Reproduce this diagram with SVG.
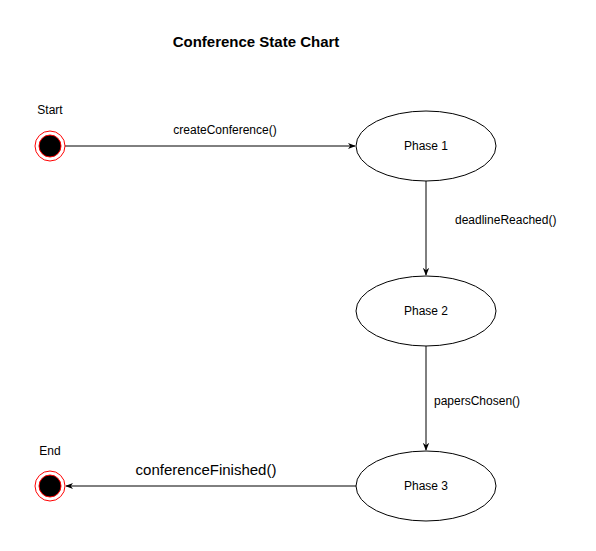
<svg xmlns="http://www.w3.org/2000/svg" width="596" height="551" viewBox="0 0 596 551">
<style>
text{font-family:"Liberation Sans",Arial,sans-serif;fill:#000}
.lbl{font-size:12px}
.st{fill:#fff;stroke:#000;stroke-width:1}
.ring{fill:none;stroke:#ff0000;stroke-width:1}
.dot{fill:#000;stroke:#ff0000;stroke-width:1}
.e{fill:none;stroke:#000;stroke-width:1}
</style>
<defs>
<marker id="ah" viewBox="0 0 10 10" refX="9" refY="5" markerWidth="8" markerHeight="8" markerUnits="userSpaceOnUse" orient="auto">
<path d="M0,1 L10,5 L0,9 L3,5 Z" fill="#000"/>
</marker>
</defs>
<rect width="596" height="551" fill="#fff"/>
<text x="256" y="47" text-anchor="middle" font-size="15" font-weight="bold">Conference State Chart</text>
<g id="connectors">
<line class="e" x1="65" y1="146" x2="355" y2="146" marker-end="url(#ah)"/>
<line class="e" x1="426" y1="181" x2="426" y2="275" marker-end="url(#ah)"/>
<line class="e" x1="426" y1="346" x2="426" y2="450" marker-end="url(#ah)"/>
<line class="e" x1="356" y1="486" x2="66" y2="486" marker-end="url(#ah)"/>
<text class="lbl" x="225" y="134" text-anchor="middle">createConference()</text>
<text class="lbl" x="455" y="224">deadlineReached()</text>
<text class="lbl" x="434" y="405">papersChosen()</text>
<text x="206" y="475" text-anchor="middle" font-size="15">conferenceFinished()</text>
</g>
<g id="start">
<circle class="ring" cx="50" cy="146" r="15" fill="#fff"/>
<circle class="dot" cx="50" cy="146" r="11"/>
<text class="lbl" x="50" y="114" text-anchor="middle">Start</text>
</g>
<g id="end">
<circle class="ring" cx="50" cy="486" r="15"/>
<circle class="dot" cx="50" cy="486" r="11"/>
<text class="lbl" x="50" y="455" text-anchor="middle">End</text>
</g>
<g id="phase1">
<ellipse class="st" cx="426" cy="146" rx="70" ry="35"/>
<text class="lbl" x="426" y="150" text-anchor="middle">Phase 1</text>
</g>
<g id="phase2">
<ellipse class="st" cx="426" cy="311" rx="70" ry="35"/>
<text class="lbl" x="426" y="315" text-anchor="middle">Phase 2</text>
</g>
<g id="phase3">
<ellipse class="st" cx="426" cy="486" rx="70" ry="35"/>
<text class="lbl" x="426" y="490" text-anchor="middle">Phase 3</text>
</g>
</svg>
